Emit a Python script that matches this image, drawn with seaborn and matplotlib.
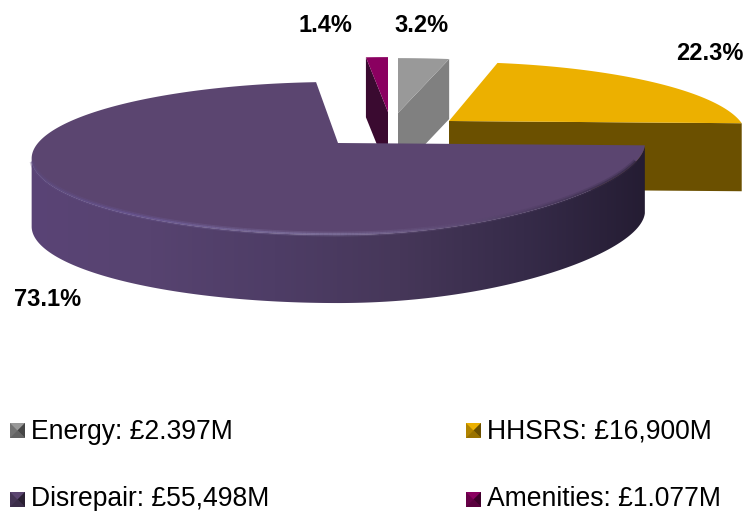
import numpy as np
import matplotlib
matplotlib.use("Agg")
import matplotlib.pyplot as plt
from matplotlib.collections import LineCollection
from matplotlib.colors import LinearSegmentedColormap, to_rgb
from matplotlib.patches import Polygon
import seaborn as sns

# ---- data ----
categories = ["Energy", "HHSRS", "Disrepair", "Amenities"]
amounts = ["£2.397M", "£16,900M", "£55,498M", "£1.077M"]
shares = [3.2, 22.3, 73.1, 1.4]
top_colours = ["#999999", "#ECB000", "#5B4570", "#8A0060"]
cut_colours = ["#808080", "#6B5000", "#2A2038", "#3A0A30"]

# ---- layout (pixels of the 745x511 canvas) ----
K = 0.2026
apex = {"Energy": (398, 113), "HHSRS": (449, 121), "Disrepair": (338, 143), "Amenities": (388, 112)}
rx_r = {"Energy": 307, "HHSRS": 291, "Disrepair": 307, "Amenities": 302}
rx_l = {"Energy": 307, "HHSRS": 291, "Disrepair": 300, "Amenities": 302}
ry = {"Energy": 66, "HHSRS": 71, "Disrepair": 73.4, "Amenities": 66}
depth = {"Energy": 60, "HHSRS": 68, "Disrepair": 68, "Amenities": 60}
kx_right = {"Energy": K, "HHSRS": K, "Disrepair": 0.0, "Amenities": K}
draw_order = ["Energy", "Amenities", "HHSRS", "Disrepair"]
cut_edge = {"Energy": "end", "HHSRS": "end", "Amenities": "start"}

sns.set_theme(style="white")
plt.rcParams["font.family"] = ["Liberation Sans", "DejaVu Sans"]

fig = plt.figure(figsize=(7.45, 5.11), dpi=100)
ax = fig.add_axes([0, 0, 1, 1])
ax.axis("off")

total = sum(shares)
bounds = np.concatenate([[0], np.cumsum(shares)]) / total * 360


def project(name, theta):
    t = np.radians(theta)
    u, v = np.sin(t), np.cos(t)
    cx, cy = apex[name]
    kx = np.where(u > 0, kx_right[name], K)
    rx = np.where(u > 0, rx_r[name], rx_l[name])
    return cx + rx * u / (1 + kx * v), cy - ry[name] * v / (1 + K * v)


wall_cmap = LinearSegmentedColormap.from_list(
    "wall", ["#5A4476", "#574370", "#4E3D66", "#463759", "#362B49", "#241C32"])
rim_cmap = LinearSegmentedColormap.from_list(
    "rim", ["#5E4C80", "#6A5896", "#7A6C9E", "#857AA4", "#64527C", "#4A3A5E", "#30263F"])

for name in draw_order:
    i = categories.index(name)
    z = draw_order.index(name) + 1
    th = np.linspace(bounds[i], bounds[i + 1], 400)
    x, y = project(name, th)
    d = depth[name]
    if name == "Disrepair":
        mask = (th < 180) | (np.cos(np.radians(th)) < -K)
        xm, ym = x[mask], y[mask]
        wall = Polygon(np.c_[np.r_[xm, xm[::-1]], np.r_[ym, ym[::-1] + d]], closed=True,
                       transform=ax.transData, facecolor="none", edgecolor="none")
        ax.add_patch(wall)
        im = ax.imshow(np.linspace(0, 1, 256)[None, :], cmap=wall_cmap, aspect="auto",
                       extent=(25, 650, 320, 130), zorder=z, interpolation="bilinear")
        im.set_clip_path(wall)
    if name in cut_edge:
        k = -1 if cut_edge[name] == "end" else 0
        a0, b0 = apex[name]
        ax.fill([a0, x[k], x[k], a0], [b0, y[k], y[k] + d, b0 + d], color=cut_colours[i], lw=0, zorder=z)
    ax.fill(np.r_[apex[name][0], x], np.r_[apex[name][1], y], color=top_colours[i], lw=0, zorder=z + 0.2)
    if name == "Disrepair":
        mask = (np.cos(np.radians(th)) < -K - 0.04) & (th < 262)
        xm, ym = x[mask], y[mask]
        segs = [[(xm[j], ym[j] - 1), (xm[j + 1], ym[j + 1] - 1)] for j in range(len(xm) - 1)]
        cols = [rim_cmap(np.clip((xm[j] - 32) / 613, 0, 1)) for j in range(len(xm) - 1)]
        ax.add_collection(LineCollection(segs, colors=cols, linewidths=3.5, alpha=0.3, zorder=z + 0.3))
        ax.add_collection(LineCollection(segs, colors=cols, linewidths=1.2, alpha=0.7, zorder=z + 0.31))

ax.set_xlim(0, 745)
ax.set_ylim(511, 0)

# percentage labels
label_pos = {"Energy": (421, 26), "HHSRS": (710, 54), "Disrepair": (48, 299), "Amenities": (325, 26)}
for i, name in enumerate(categories):
    ax.text(*label_pos[name], f"{shares[i]:.1f}%", fontsize=17, fontweight="bold", color="black",
            ha="center", va="center", zorder=10)

# legend
legend_pos = {"Energy": (10, 423), "HHSRS": (466, 423), "Disrepair": (10, 492), "Amenities": (466, 492)}
text_shift = {"Energy": 1.5, "HHSRS": 1.5, "Disrepair": -0.2, "Amenities": -0.2}
SIZE = 15


def shade(c, f):
    return tuple(np.array(to_rgb(c)) * f)


for i, name in enumerate(categories):
    x0, y0 = legend_pos[name]
    mx, my = x0 + SIZE / 2, y0 + SIZE / 2
    x1, y1 = x0 + SIZE, y0 + SIZE
    base = top_colours[i]
    ax.fill([x0, x1, x1, x0], [y0, y0, y1, y1], color=shade(base, 0.75), lw=0, zorder=10)
    tris = [
        ([x0, x1, mx], [y0, y0, my], shade(base, 1.0)),
        ([x1, x1, mx], [y0, y1, my], shade(base, 0.45)),
        ([x0, x1, mx], [y1, y1, my], shade(base, 0.65)),
    ]
    for tx, ty, col in tris:
        ax.fill(tx, ty, color=col, lw=0, zorder=10.1)
    ax.text(x1 + 6, my + text_shift[name], f"{name}: {amounts[i]}", fontsize=19.1, color="black",
            ha="left", va="center", zorder=11)

fig.savefig("out.png", dpi=100, facecolor="white")
